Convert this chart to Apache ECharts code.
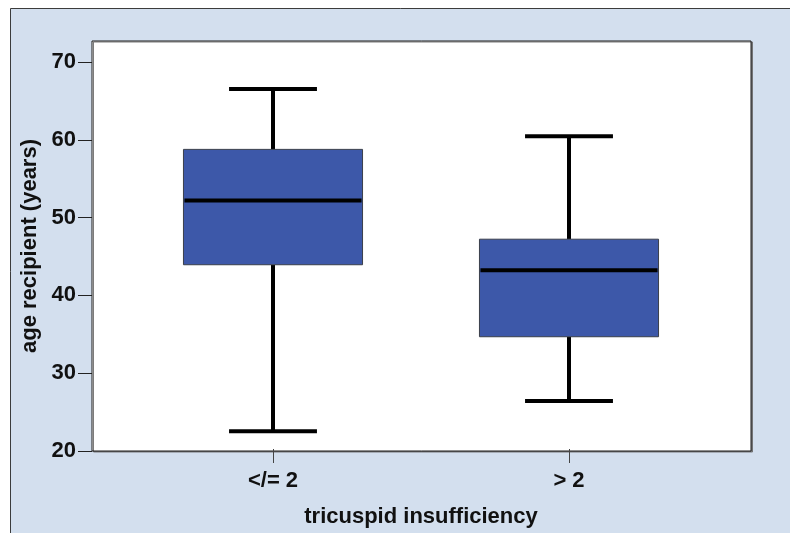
<!DOCTYPE html>
<html>
<head>
<meta charset="utf-8">
<title>Age of recipient by tricuspid insufficiency</title>
<script src="https://cdn.jsdelivr.net/npm/echarts@6/dist/echarts.min.js"></script>
<style>
  html, body { margin: 0; padding: 0; background: #ffffff; }
  #chart { width: 790px; height: 533px; }
</style>
</head>
<body>
<div id="chart"></div>
<script>
// Group labels on the x axis
const categories = ['</= 2', '> 2'];
// Box plot statistics per group (age in years)
const lowerWhisker = [22.3, 26.2];
const q1 = [43.8, 34.5];
const median = [52.1, 43.1];
const q3 = [58.7, 47.1];
const upperWhisker = [66.5, 60.4];
// Y axis ticks
const yTicks = [20, 30, 40, 50, 60, 70];
const yMin = 20;
const yMax = 72.7;

const FONT = '"Liberation Sans", Arial, sans-serif';
const TEXT = '#111111';
const FS = 22;

const boxData = categories.map((c, i) => [i, lowerWhisker[i], q1[i], median[i], q3[i], upperWhisker[i]]);

function renderBox(params, api) {
  const idx = api.value(0);
  const pLow = api.coord([idx, api.value(1)]);
  const pQ1 = api.coord([idx, api.value(2)]);
  const pMed = api.coord([idx, api.value(3)]);
  const pQ3 = api.coord([idx, api.value(4)]);
  const pHigh = api.coord([idx, api.value(5)]);
  const band = api.size([1, 0])[0];
  const boxW = band * 0.605;
  const capW = band * 0.297;
  const cx = pLow[0];
  const whisker = { stroke: '#000', lineWidth: 4 };
  return {
    type: 'group',
    children: [
      { type: 'line', shape: { x1: cx, y1: pHigh[1], x2: cx, y2: pQ3[1] }, style: whisker },
      { type: 'line', shape: { x1: cx, y1: pQ1[1], x2: cx, y2: pLow[1] }, style: whisker },
      { type: 'line', shape: { x1: cx - capW / 2, y1: pHigh[1], x2: cx + capW / 2, y2: pHigh[1] }, style: whisker },
      { type: 'line', shape: { x1: cx - capW / 2, y1: pLow[1], x2: cx + capW / 2, y2: pLow[1] }, style: whisker },
      {
        type: 'rect',
        shape: { x: cx - boxW / 2, y: pQ3[1], width: boxW, height: pQ1[1] - pQ3[1] },
        style: { fill: '#3d58a9', stroke: '#3a3f4a', lineWidth: 1 }
      },
      { type: 'line', shape: { x1: cx - boxW / 2 + 1, y1: pMed[1], x2: cx + boxW / 2 - 1, y2: pMed[1] }, style: whisker }
    ]
  };
}

const chart = echarts.init(document.getElementById('chart'), null, { renderer: 'canvas' });

chart.setOption({
  animation: false,
  backgroundColor: '#ffffff',
  graphic: [
    {
      type: 'rect',
      z: -10,
      silent: true,
      shape: { x: 10.5, y: 8.5, width: 800, height: 540 },
      style: { fill: '#d3dfee', stroke: '#3c3c3c', lineWidth: 1 }
    }
  ],
  grid: [
    {
      left: 92, right: 39, top: 41, bottom: 82,
      show: true,
      backgroundColor: '#ffffff',
      borderColor: '#1a1a1a',
      borderWidth: 1,
      shadowColor: 'rgba(110,110,110,0.9)',
      shadowOffsetX: 1.5,
      shadowOffsetY: 1,
      shadowBlur: 0
    },
    { left: 125, right: 73, top: 41, bottom: 82 }
  ],
  xAxis: [
    { gridIndex: 0, type: 'value', show: false, min: 0, max: 1 },
    {
      gridIndex: 1,
      type: 'category',
      data: categories,
      axisLine: { show: false },
      axisTick: { show: true, alignWithLabel: true, length: 14, lineStyle: { color: '#444', width: 1 } },
      axisLabel: { margin: 21, color: TEXT, fontSize: FS, fontWeight: 'bold', fontFamily: FONT },
      splitLine: { show: false },
      name: 'tricuspid insufficiency',
      nameLocation: 'middle',
      nameGap: 57,
      nameTextStyle: { color: TEXT, fontSize: FS, fontWeight: 'bold', fontFamily: FONT }
    }
  ],
  yAxis: [
    {
      gridIndex: 0,
      type: 'value',
      min: yMin,
      max: yMax,
      interval: 10,
      axisLine: { show: false },
      axisTick: { show: true, length: 14, customValues: yTicks, lineStyle: { color: '#222', width: 1 } },
      axisLabel: { margin: 16, customValues: yTicks, color: TEXT, fontSize: FS, fontWeight: 'bold', fontFamily: FONT },
      splitLine: { show: false },
      name: 'age recipient (years)',
      nameLocation: 'middle',
      nameGap: 44,
      nameRotate: 90,
      nameTextStyle: { color: TEXT, fontSize: FS, fontWeight: 'bold', fontFamily: FONT }
    },
    { gridIndex: 1, type: 'value', min: yMin, max: yMax, interval: 10, show: false }
  ],
  series: [
    {
      type: 'custom',
      name: 'age recipient',
      xAxisIndex: 1,
      yAxisIndex: 1,
      renderItem: renderBox,
      encode: { x: 0, y: [1, 2, 3, 4, 5] },
      data: boxData
    }
  ]
});
</script>
</body>
</html>
